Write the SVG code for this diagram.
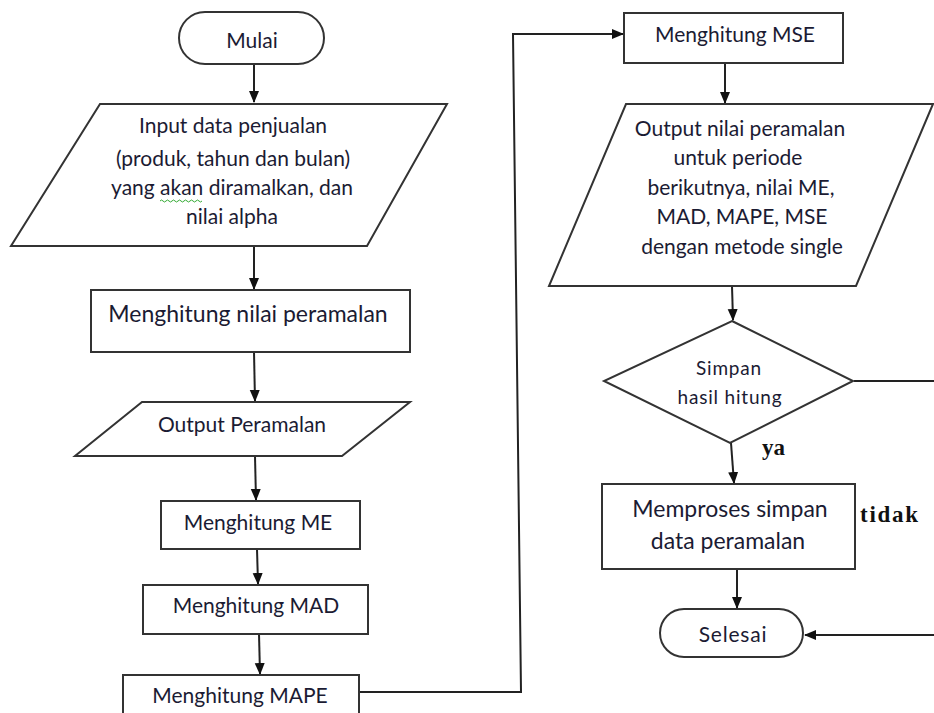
<svg xmlns="http://www.w3.org/2000/svg" width="934" height="713" viewBox="0 0 934 713">
<defs>
<marker id="ah" markerWidth="12" markerHeight="12" refX="11" refY="6" orient="auto" markerUnits="userSpaceOnUse">
<path d="M0,1 L12,6 L0,11 Z" fill="#111"/>
</marker>
<style>
.s{fill:#fff;stroke:#333;stroke-width:2}
.t{font-family:Lato,"Liberation Sans",sans-serif;font-size:21px;fill:#1b1b33;text-anchor:middle}
.c{fill:none;stroke:#222;stroke-width:2}
.b{font-family:"Liberation Serif",serif;font-weight:bold;font-size:23px;fill:#111}
</style>
</defs>
<rect width="934" height="713" fill="#fff"/>
<g id="connectors">
<path class="c" d="M254,64 V102" marker-end="url(#ah)"/>
<path class="c" d="M254,246 V289" marker-end="url(#ah)"/>
<path class="c" d="M254,352 L255,401" marker-end="url(#ah)"/>
<path class="c" d="M255,456 L256,500" marker-end="url(#ah)"/>
<path class="c" d="M257,549 L258,584" marker-end="url(#ah)"/>
<path class="c" d="M259,634 L260,674" marker-end="url(#ah)"/>
<path class="c" d="M359,692 H521 L513,34 H623" marker-end="url(#ah)"/>
<path class="c" d="M725,63 V103" marker-end="url(#ah)"/>
<path class="c" d="M732,286 L733,320" marker-end="url(#ah)"/>
<path class="c" d="M731,443 L734,483" marker-end="url(#ah)"/>
<path class="c" d="M737,569 V608" marker-end="url(#ah)"/>
<path class="c" d="M854,381 H940 V635 H805" marker-end="url(#ah)"/>
<text class="b" x="762" y="455">ya</text>
<text class="b" x="860" y="522" textLength="58" lengthAdjust="spacing">tidak</text>
</g>
<g id="mulai">
<rect class="s" x="179" y="12" width="145" height="52" rx="26"/>
<text class="t" x="252" y="48">Mulai</text>
</g>
<g id="input">
<polygon class="s" points="100,104 447,104 367,246 11,246"/>
<text class="t" x="233" y="133">Input data penjualan</text>
<text class="t" x="233" y="166">(produk, tahun dan bulan)</text>
<text class="t" x="232" y="195">yang akan diramalkan, dan</text>
<text class="t" x="232" y="224">nilai alpha</text>
<path d="M160,201 q1.5,-2 3,0 t3,0 t3,0 t3,0 t3,0 t3,0 t3,0 t3,0 t3,0 t3,0 t3,0 t3,0 t3,0 t3,0" fill="none" stroke="#3a3" stroke-width="1"/>
</g>
<g id="hitung-peramalan">
<rect class="s" x="91" y="290" width="319" height="62"/>
<text class="t" x="248" y="322" style="font-size:23px">Menghitung nilai peramalan</text>
</g>
<g id="output-peramalan">
<polygon class="s" points="142,402 410,402 342,456 75,456"/>
<text class="t" x="242" y="432">Output Peramalan</text>
</g>
<g id="me">
<rect class="s" x="161" y="501" width="199" height="48"/>
<text class="t" x="258" y="530">Menghitung ME</text>
</g>
<g id="mad">
<rect class="s" x="143" y="585" width="225" height="49"/>
<text class="t" x="256" y="613">Menghitung MAD</text>
</g>
<g id="mape">
<rect class="s" x="123" y="675" width="236" height="60"/>
<text class="t" x="240" y="703">Menghitung MAPE</text>
</g>
<g id="mse">
<rect class="s" x="624" y="13" width="219" height="50"/>
<text class="t" x="735" y="42">Menghitung MSE</text>
</g>
<g id="output-akhir">
<polygon class="s" points="626,104 933,104 856,286 549,286"/>
<text class="t" x="740" y="136">Output nilai peramalan</text>
<text class="t" x="738" y="165">untuk periode</text>
<text class="t" x="741" y="195">berikutnya, nilai ME,</text>
<text class="t" x="742" y="224">MAD, MAPE, MSE</text>
<text class="t" x="742" y="254">dengan metode single</text>
</g>
<g id="simpan">
<polygon class="s" points="732,321 853,381 730,443 604,381"/>
<text class="t" x="729" y="375" style="font-size:19px;letter-spacing:0.8px">Simpan</text>
<text class="t" x="730" y="404" style="font-size:19px;letter-spacing:0.8px">hasil hitung</text>
</g>
<g id="memproses">
<rect class="s" x="602" y="484" width="253" height="85"/>
<text class="t" x="730" y="517" style="font-size:23px">Memproses simpan</text>
<text class="t" x="728" y="549" style="font-size:23px">data peramalan</text>
</g>
<g id="selesai">
<rect class="s" x="660" y="609" width="143" height="48" rx="24"/>
<text class="t" x="733" y="642" style="letter-spacing:0.8px">Selesai</text>
</g>
</svg>
